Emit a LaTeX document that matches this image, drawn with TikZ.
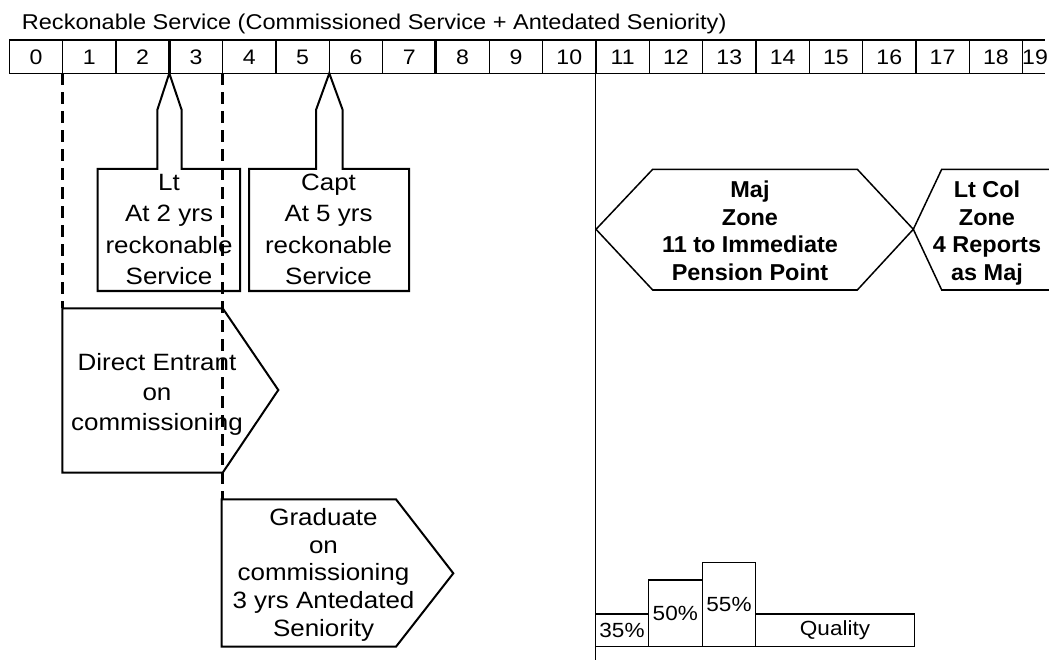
\documentclass[tikz,border=0pt]{standalone}
\usepackage{fontspec}
\setmainfont{Liberation Sans}[FakeStretch=1.1]
\newfontfamily\zonefont{Liberation Sans}[FakeStretch=1.02]
\newcommand\tstrut{\rule{0pt}{0.8em}}
\begin{document}
\begin{tikzpicture}[x=1pt,y=-1pt,
  tbl/.style={line width=1.5pt},
  thk/.style={line width=3pt},
  guide/.style={line width=2.6pt, dash pattern=on 12pt off 7pt},
  shp/.style={draw, line width=2pt, line join=miter},
  hexs/.style={draw, line width=1.5pt, line join=miter},
  barbox/.style={draw, line width=1.5pt, inner sep=0, font=\fontsize{20.5}{24}\selectfont},
  num/.style={anchor=base, inner sep=0, font=\fontsize{21}{24}\selectfont},
  boxtxt/.style={align=center, anchor=north, inner sep=0},
  zonetxt/.style={align=center, anchor=north, inner sep=0, font=\zonefont\bfseries\fontsize{23}{27.6}\selectfont}
]
\useasboundingbox (0,0) rectangle (1049,660);
\fill[white] (0,0) rectangle (1049,660);

% title
\node[anchor=base west, inner sep=0, font=\fontsize{21.4}{24}\selectfont] (title) at (21.7,29.3)
  {Reckonable Service (Commissioned Service + Antedated Seniority)};

% table
\draw[tbl] (9.3,40) -- (1045,40);
\draw[tbl] (9.3,73.3) -- (1045,73.3);
\foreach \i in {0,1,2,4,5,6,7,9,10,11,12,13,14,15,16,17,18,19}
  \draw[tbl] ({9.3+53.33*\i},40) -- ({9.3+53.33*\i},73.3);
\foreach \i in {3,8}
  \draw[thk] ({9.3+53.33*\i},40) -- ({9.3+53.33*\i},73.3);
\foreach \i in {0,...,18}
  \node[num] (n\i) at ({9.3+53.33*\i+26.67},65) {\i};
\node[num] (n19) at (1035,65) {19};

% long vertical line
\coordinate (vtop) at (595.7,73.3);
\coordinate (vbot) at (595.7,660);
\draw[line width=1.3pt] (vtop) -- (vbot);

% Lt callout
\draw[shp, fill=white] (97.7,169) -- (157.3,169) -- (157.3,110) -- (169.3,73.3) -- (181.7,110) -- (181.7,169)
  -- (240,169) -- (240,291) -- (97.7,291) -- cycle;
\node[boxtxt, font=\fontsize{23.6}{31.2}\selectfont] (lt) at (169,171.7) {\tstrut Lt\\At 2 yrs\\reckonable\\Service};

% Capt callout
\draw[shp, fill=white] (249,169) -- (316,169) -- (316,110) -- (329.3,73.3) -- (342.7,110) -- (342.7,169)
  -- (409,169) -- (409,291) -- (249,291) -- cycle;
\node[boxtxt, font=\fontsize{23.6}{31.2}\selectfont] (capt) at (328.5,171.7) {\tstrut Capt\\At 5 yrs\\reckonable\\Service};

% Direct entrant
\draw[shp, fill=white] (62.3,308.3) -- (222.7,308.3) -- (278.3,390) -- (222.7,472.7) -- (62.3,472.7) -- cycle;
\node[boxtxt, font=\fontsize{23.6}{30}\selectfont] (de) at (157,351.1) {\tstrut Direct Entrant\\on\\commissioning};

% Graduate
\draw[shp, fill=white] (221.7,499.3) -- (396,499.3) -- (453.3,573.3) -- (396,646.7) -- (221.7,646.7) -- cycle;
\node[boxtxt, font=\fontsize{23.6}{27.9}\selectfont] (grad) at (323.5,506.1) {\tstrut Graduate\\on\\commissioning\\3 yrs Antedated\\Seniority};

% Maj zone
\draw[hexs, fill=white] (596,229.3) -- (652.7,169.3) -- (857.3,169.3) -- (913.3,229.3) -- (857.3,290) -- (652.7,290) -- cycle;
\node[zonetxt] (maj) at (750,178.9) {\tstrut Maj\\Zone\\11 to Immediate\\Pension Point};

% Lt Col zone
\draw[hexs] (1049,169.3) -- (941.7,169.3) -- (913.3,229.3) -- (941.7,290) -- (1049,290);
\node[zonetxt] (ltcol) at (987,178.9) {\tstrut Lt Col\\Zone\\4 Reports\\as Maj};

% guides
\coordinate (g1t) at (62.6,73.3);
\coordinate (g1b) at (62.6,308.3);
\coordinate (g2t) at (222.6,73.3);
\coordinate (g2b) at (222.6,499.3);
\draw[guide] (g1t) -- (g1b);
\draw[guide] (g2t) -- (g2b);

% bars
\node[barbox, minimum width=52.6pt, minimum height=32.7pt] (b35) at (622,630.35) {35\%};
\node[barbox, minimum width=54pt, minimum height=66.7pt] (b50) at (675.3,613.35) {50\%};
\node[barbox, minimum width=53.4pt, minimum height=84pt] (b55) at (729,604.7) {55\%};
\node[barbox, minimum width=158.6pt, minimum height=32.7pt] (bq) at (835,630.35) {Quality};
\end{tikzpicture}
\end{document}
